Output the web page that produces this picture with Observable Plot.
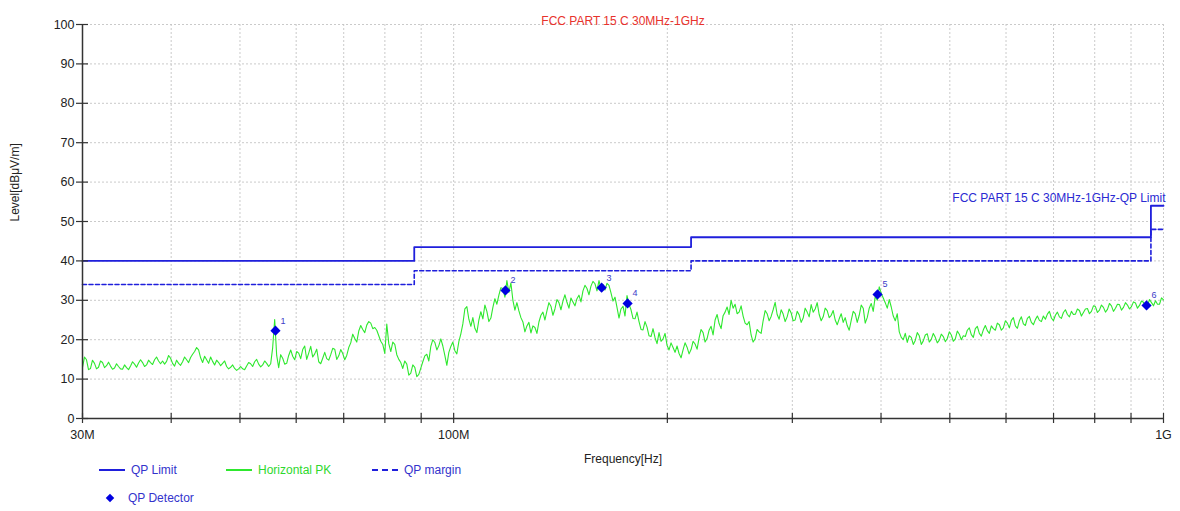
<!DOCTYPE html>
<html><head><meta charset="utf-8">
<script src="https://cdn.jsdelivr.net/npm/d3@7"></script>
<script src="https://cdn.jsdelivr.net/npm/@observablehq/plot@0.6"></script>
<style>
body{margin:0;background:#fff;font-family:"Liberation Sans",Arial,sans-serif;}
#wrap{position:relative;width:1180px;height:511px;overflow:hidden;}
.lg{position:absolute;font-size:12px;line-height:14px;white-space:nowrap;}
</style></head><body><div id="wrap"></div>
<script>
// ---- data ----
const limitEdges = [30, 88, 216, 960, 1000];          // MHz
const qpLimit    = [40, 43.5, 46, 54];                 // dBµV/m
const qpMargin   = [34, 37.5, 40, 48];
const markerId    = ["1", "2", "3", "4", "5", "6"];
const markerFreq  = [56.1, 118.3, 161.6, 175.8, 395.5, 946.5];
const markerLevel = [22.3, 32.5, 33.2, 29.2, 31.5, 28.7];
const sweepStart = 30, sweepStop = 1000;               // log sweep, MHz
// peak trace: readings on the sweep grid ...
const pkLevels = [
13.0,14.9,12.7,14.0,13.0,14.2,13.4,13.3,12.8,13.2,
12.5,12.9,13.3,13.8,14.1,14.2,13.6,14.2,14.9,14.6,
14.6,14.5,15.3,13.3,14.0,14.4,14.9,15.5,17.0,17.4,
14.2,14.9,15.6,13.6,14.2,14.0,13.2,13.0,12.7,12.6,
12.6,13.3,13.9,14.4,13.8,13.6,14.0,13.9,25.1,12.9,
15.3,14.0,17.4,14.9,16.6,17.5,15.0,18.3,16.4,14.4,
15.3,15.2,16.2,17.6,15.9,16.5,16.0,19.2,20.3,22.2,
22.6,23.7,24.2,23.1,21.0,18.8,24.0,17.0,18.8,15.0,
12.7,13.8,11.5,13.0,11.2,14.4,16.3,18.3,19.3,18.5,
18.4,13.5,18.3,17.2,19.5,24.0,28.4,23.4,22.9,25.0,
25.3,27.2,25.5,30.4,31.3,33.0,35.0,34.4,27.5,27.3,
24.5,23.5,21.7,23.1,24.5,27.0,27.3,28.5,27.8,29.4,
29.8,29.5,30.6,28.6,31.3,32.4,33.0,33.6,34.2,35.0,
34.0,34.3,31.9,30.8,25.5,28.5,31.2,27.6,25.3,24.6,
22.5,23.2,20.8,20.5,21.8,20.2,18.6,19.2,16.8,16.5,
17.4,18.1,17.5,18.9,20.4,21.8,20.3,23.4,25.0,24.1,
26.1,28.3,30.0,29.0,27.0,26.0,23.8,21.2,20.2,22.0,
24.8,26.6,25.9,29.5,25.2,26.5,25.8,26.8,25.0,26.3,
25.5,27.0,28.9,27.8,26.4,25.8,27.4,26.2,25.0,25.3,
24.4,23.6,24.9,26.6,26.2,28.0,25.6,29.2,31.0,33.4,
30.6,28.0,28.3,24.8,22.0,20.0,19.3,20.6,19.8,21.0,
19.7,21.5,20.1,20.6,19.9,20.8,20.3,21.2,20.2,21.4,
21.0,22.4,21.3,22.8,21.6,22.5,22.3,23.5,22.4,23.8,
23.0,24.2,24.9,23.5,24.8,24.0,25.4,24.4,25.1,24.9,
26.0,26.5,25.5,26.2,25.8,26.9,26.4,27.2,26.5,27.4,
26.9,27.9,27.2,28.4,27.5,28.2,27.7,28.6,28.0,28.9,
28.2,28.8,28.4,29.3,28.7,29.5,28.6,29.4,29.9,29.0,
30.1];
// ... and readings half-way between those grid points (noise band)
const pkLevelsMid = [
15.6,12.4,14.8,12.6,14.6,12.9,14.3,12.5,13.9,12.6,
13.6,12.4,14.4,13.0,14.9,13.2,14.8,13.7,15.6,13.9,
13.8,16.0,14.0,14.8,13.5,15.6,14.2,16.3,18.0,15.4,
15.8,14.0,14.5,14.8,13.4,14.6,12.6,13.6,12.2,13.2,
12.4,14.2,13.2,15.0,13.1,14.6,13.2,18.0,16.0,16.2,
13.8,16.0,15.8,17.0,15.2,18.4,16.6,15.6,17.6,13.9,
16.8,14.8,17.8,15.0,17.5,14.9,18.0,21.4,19.4,23.6,
21.8,24.6,22.8,22.4,19.6,16.5,19.0,19.4,16.2,14.2,
14.6,11.0,13.6,10.6,12.8,15.9,14.6,20.0,17.4,20.2,
16.0,16.8,19.4,16.4,21.5,27.8,25.2,25.6,21.8,27.1,
28.8,24.6,28.2,29.0,33.2,30.8,32.0,30.0,29.4,25.6,
22.0,24.4,23.5,21.6,26.2,25.0,29.4,26.2,30.2,27.6,
31.4,28.0,29.6,30.4,29.6,33.8,31.4,34.8,32.4,33.0,
32.6,33.8,29.8,28.2,27.8,26.0,29.0,25.4,27.0,22.6,
24.6,21.0,22.8,19.0,19.6,21.6,17.4,18.0,18.4,15.4,
19.2,16.4,19.6,17.6,22.6,19.4,22.4,21.2,26.4,22.8,
27.0,26.4,28.0,26.6,28.6,24.2,24.6,19.4,22.6,21.6,
27.4,24.8,27.6,26.4,27.6,24.6,27.8,24.8,27.2,24.4,
28.0,25.8,27.0,29.4,24.8,28.0,25.6,27.4,23.8,26.6,
25.6,22.4,27.2,24.4,28.8,24.2,28.0,27.2,30.0,31.8,
29.4,30.2,26.0,26.6,20.6,21.6,21.0,18.8,21.8,18.8,
21.2,19.4,21.6,19.2,21.4,19.5,22.0,19.6,22.2,20.0,
20.8,23.0,20.6,23.4,20.9,23.6,21.6,22.8,24.2,22.4,
24.8,23.0,25.6,22.9,25.8,23.6,25.9,23.8,26.0,24.6,
25.2,27.2,24.8,27.0,25.4,27.6,25.8,26.4,27.8,26.0,
27.8,26.6,28.6,26.9,28.8,27.0,29.2,27.2,29.0,27.5,
29.4,27.8,29.6,28.0,29.8,28.2,30.2,28.6,29.0,30.6];
const xTicks = [30,40,50,60,70,80,90,100,200,300,400,500,600,700,800,900,1000];
const xLabelTicks = [30, 100, 1000];
const xLabels = ["30M", "100M", "1G"];
const yTicks = [0,10,20,30,40,50,60,70,80,90,100];

// ---- build ----
const BLUE = "#1f1fdc", GREEN = "#2ee82e", GRID = "#c4c4c4";
const stepOf = (vals) => limitEdges.map((f, i) => ({f, v: vals[Math.min(i, vals.length - 1)]}));
const limitData = stepOf(qpLimit);
const marginData = stepOf(qpMargin);
const n = pkLevels.length;
const freqAt = (t) => sweepStart * Math.pow(sweepStop / sweepStart, t / (n - 1));
const pk = [];
pkLevels.forEach((v, i) => {
  pk.push({f: freqAt(i), v});
  if (i < pkLevelsMid.length) pk.push({f: freqAt(i + 0.5), v: pkLevelsMid[i]});
});
const markers = markerFreq.map((f, i) => ({f, v: markerLevel[i], id: markerId[i]}));
const labelOf = (d) => xLabels[xLabelTicks.indexOf(d)] ?? "";

const chart = Plot.plot({
  width: 1180, height: 476,
  marginTop: 24, marginLeft: 82, marginRight: 17, marginBottom: 58,
  style: {fontFamily: '"Liberation Sans", Arial, sans-serif', fontSize: "12.5px", background: "#fff", color: "#222", overflow: "visible"},
  x: {type: "log", domain: [sweepStart, sweepStop]},
  y: {domain: [0, 100]},
  marks: [
    Plot.ruleX(xTicks, {x: d => d, stroke: GRID, strokeDasharray: "2,2", strokeWidth: 0.9}),
    Plot.ruleY(yTicks, {y: d => d, stroke: GRID, strokeDasharray: "2,2", strokeWidth: 0.9}),
    Plot.line(pk, {x: "f", y: "v", stroke: GREEN, strokeWidth: 1.1}),
    Plot.line(marginData, {x: "f", y: "v", curve: "step-after", stroke: BLUE, strokeWidth: 1.6, strokeDasharray: "4,2.5"}),
    Plot.line(limitData, {x: "f", y: "v", curve: "step-after", stroke: BLUE, strokeWidth: 1.8}),
    Plot.dot(markers, {x: "f", y: "v", symbol: "diamond2", r: 4.6, fill: "#0000e0", stroke: "none"}),
    Plot.text(markers, {x: "f", y: "v", text: "id", dx: 5, dy: -10, textAnchor: "start", fontSize: 9, fill: "#3c3cc8"}),
    // axes
    Plot.ruleY([0], {stroke: "#333", strokeWidth: 1.5}),
    Plot.ruleX([sweepStart], {stroke: "#333", strokeWidth: 1.5}),
    Plot.ruleX(xTicks, {x: d => d, y1: 0, y2: 0, insetTop: -5, insetBottom: -5, stroke: "#333", strokeWidth: 1.2}),
    Plot.ruleY(yTicks, {y: d => d, x1: sweepStart, x2: sweepStart, insetLeft: -6, insetRight: -6, stroke: "#333", strokeWidth: 1.2}),
    Plot.axisX({ticks: xLabelTicks, tickFormat: labelOf, tickSize: 0, tickPadding: 12, fontSize: 12.5, fill: "#222", label: null}),
    Plot.axisY({ticks: yTicks, tickSize: 0, tickPadding: 8, fontSize: 12.5, fill: "#222", label: null}),
    // texts
    Plot.text(["FCC PART 15 C 30MHz-1GHz"], {frameAnchor: "top", dy: -8, fill: "#e8322c", fontSize: 12}),
    Plot.text(["FCC PART 15 C 30MHz-1GHz-QP Limit"], {frameAnchor: "top-right", dx: 2, dy: 169, textAnchor: "end", fill: "#2a2ad2", fontSize: 12}),
    Plot.text(["Level[dBμV/m]"], {frameAnchor: "left", rotate: -90, dx: -67, fill: "#222", fontSize: 12}),
    Plot.text(["Frequency[Hz]"], {frameAnchor: "bottom", dy: 44, fill: "#222", fontSize: 12})
  ]
});
const wrap = document.getElementById("wrap");
wrap.appendChild(chart);

// legend (below the svg)
const legendItems = [
  {kind: "line", label: "QP Limit", color: "#3333cc", sx: 99, tx: 131, y: 470},
  {kind: "green", label: "Horizontal PK", color: "#2ed82e", sx: 226, tx: 258, y: 470},
  {kind: "dash", label: "QP margin", color: "#3333cc", sx: 372, tx: 404, y: 470},
  {kind: "diamond", label: "QP Detector", color: "#3333cc", sx: 107, tx: 128, y: 498}
];
for (const it of legendItems) {
  const s = document.createElement("div");
  s.className = "lg";
  if (it.kind === "diamond") {
    Object.assign(s.style, {left: it.sx + "px", top: (it.y - 3) + "px", width: "6px", height: "6px", background: "#0000e0", transform: "rotate(45deg)"});
  } else {
    Object.assign(s.style, {left: it.sx + "px", top: (it.y - 1) + "px", width: "26px", height: "0px",
      borderTop: it.kind === "dash" ? "2px dashed " + BLUE : "2px solid " + (it.kind === "green" ? GREEN : BLUE)});
  }
  wrap.appendChild(s);
  const t = document.createElement("div");
  t.className = "lg";
  t.textContent = it.label;
  Object.assign(t.style, {left: it.tx + "px", top: (it.y - 7) + "px", color: it.color});
  wrap.appendChild(t);
}
</script></body></html>
